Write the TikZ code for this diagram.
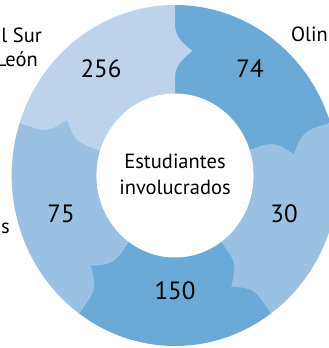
\documentclass[tikz,border=0pt]{standalone}
\usepackage{fontspec}
\setmainfont{PT Sans}
\definecolor{cLight}{HTML}{BDD3EC}
\definecolor{cMid}{HTML}{9AC1E2}
\definecolor{cDark}{HTML}{6BAAD7}
\begin{document}
\begin{tikzpicture}[x=1pt,y=1pt,
  num/.style={font=\fontsize{25}{28}\selectfont, inner sep=0pt},
  lbl/.style={font=\fontsize{20.5}{26}\selectfont, inner sep=0pt}]
\useasboundingbox (0,0) rectangle (329,348);
\clip (0,0) rectangle (329,348);
\begin{scope}[shift={(175,172.5)}, xscale=0.958]
  % wedges
  \foreach \a/\b/\c in {90/18/cDark, 18/-54/cMid, -54/-126/cDark, -126/-198/cMid, 162/90/cLight}
    \fill[\c] (0,0) -- (\a:170.5) arc[start angle=\a, end angle=\b, radius=170.5] -- cycle;
  % puzzle tabs
  \foreach \a/\c in {90/cLight, 18/cDark, -54/cMid, -126/cDark, 162/cMid}{
    \begin{scope}[rotate=\a]
      \fill[\c] (150.5,1.5) -- (150.5,0) .. controls (138,0) and (131,-10) .. (124.5,-18)
        .. controls (118,-10) and (111,0) .. (98.5,0) -- (98.5,1.5) -- cycle;
    \end{scope}
  }
  % hole
  \fill[white] (0,0) circle[radius=82];
\end{scope}
% values
\node[num] (v256) at (101,279) {256};
\node[num] (v74)  at (250,279) {74};
\node[num] (v30)  at (284,134) {30};
\node[num] (v150) at (175,57) {150};
\node[num] (v75)  at (61,134) {75};
% centre
\node[lbl, align=center] (centre) at (175,174) {Estudiantes\\involucrados};
% outer labels (cut by the picture's edge, as in the reference)
\node[lbl, anchor=base east] (lsur) at (42,305) {l Sur};
\node[lbl, anchor=base east] (leon) at (38,281) {León};
\node[lbl, anchor=base west] (olin) at (291,306) {Olin};
\node[lbl, anchor=base east] (ls) at (10,114) {s};
\end{tikzpicture}
\end{document}
